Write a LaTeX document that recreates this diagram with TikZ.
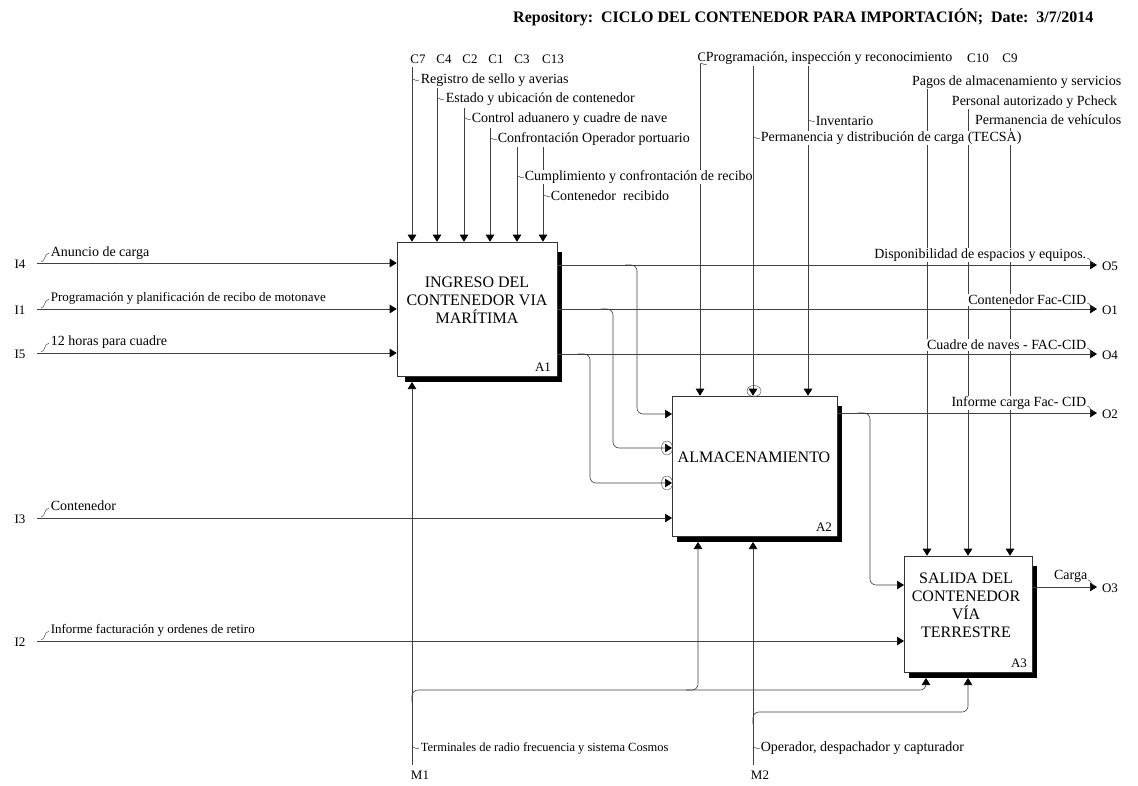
\documentclass[tikz,border=0pt]{standalone}
\usepackage{fontspec}
\setmainfont{Liberation Serif}
\usetikzlibrary{arrows.meta,calc,backgrounds}
\begin{document}
\begin{tikzpicture}[x=1pt,y=-1pt,
  line/.style={draw=black!75, line width=0.6pt},
  arr/.style={line, -{Triangle[length=7pt,width=8.5pt,color=black]}},
  rarr/.style={arr, rounded corners=6pt},
  lbl/.style={font=\fontsize{14}{16}\selectfont, inner sep=0.6pt, fill=white},
  lbls/.style={font=\fontsize{13}{15}\selectfont, inner sep=0.6pt, fill=white},
  code/.style={font=\fontsize{13}{15}\selectfont, inner sep=0.5pt},
  titlef/.style={font=\bfseries\fontsize{16}{18}\selectfont, inner sep=0pt},
  boxtxt/.style={font=\fontsize{16}{18}\selectfont, align=center, inner sep=0pt},
  proc/.style={draw=black!80, fill=white, line width=0.6pt, inner sep=0pt},
  squig/.style={draw=black!75, line width=0.45pt},
  tunnel/.style={draw=black!70, line width=0.45pt},
  csq/.pic={\draw[squig] (0,0) .. controls (2,-3) and (4,3) .. (7,0);},
  isq/.pic={\draw[squig] (0,0) .. controls (5,-1) and (2,-7) .. (8,-9);},
  osq/.pic={\draw[squig] (0,0) .. controls (4,0) and (2,5) .. (7,6);}
]
\useasboundingbox (0,0) rectangle (1138,785);

% title
\node[titlef, anchor=west] (title) at (513,17) {Repository:\ \ CICLO DEL CONTENEDOR PARA IMPORTACIÓN;\ \ Date:\ \ 3/7/2014};

% activity boxes
\node[proc, minimum width=160pt, minimum height=134pt] (A1) at (477,309) {};
\node[proc, minimum width=165pt, minimum height=140pt] (A2) at (754.5,466) {};
\node[proc, minimum width=128pt, minimum height=116pt] (A3) at (968,614) {};

\begin{scope}[on background layer]
  \fill[white] (0,0) rectangle (1138,785);
  \fill[black] ($(A1.south west)+(8,6)$) rectangle ($(A1.north east)+(5,10)$);
  \fill[black] ($(A2.south west)+(5,6)$) rectangle ($(A2.north east)+(5,10)$);
  \fill[black] ($(A3.south west)+(5,6)$) rectangle ($(A3.north east)+(5,10)$);
\end{scope}

\node[boxtxt] (A1name) at (477,300) {INGRESO DEL\\CONTENEDOR VIA\\MARÍTIMA};
\node[code] (A1id) at (543,367) {A1};
\node[boxtxt] (A2name) at (754,457) {ALMACENAMIENTO};
\node[code] (A2id) at (824,527) {A2};
\node[boxtxt] (A3name) at (966,605) {SALIDA DEL\\CONTENEDOR\\VÍA\\TERRESTRE};
\node[code] (A3id) at (1019,663) {A3};

% ---------- connection points
\coordinate (A2i1) at (672,414);
\coordinate (A2i2) at (672,448);
\coordinate (A2i3) at (672,483);
\coordinate (A2i4) at (672,518);
\coordinate (A3i1) at (904,585);
\coordinate (A3i2) at (904,641);
\coordinate (A1m1) at (412,382);
\coordinate (A2m1) at (698,542);
\coordinate (A2m2) at (753,542);
\coordinate (A3m1) at (926,678);
\coordinate (A3m2) at (968,678);

% ---------- controls A1
\foreach \n/\x/\y in {C7/412/67, C4/437/88, C2/464/108, C1/490/128, C3/517/147, C13/543/147}{
  \coordinate (\n s) at (\x,\y);
  \draw[arr] (\n s) -- (\n s |- A1.north);
}
% ---------- controls A2
\coordinate (P1s) at (700,64);
\coordinate (P2s) at (753,66);
\coordinate (P3s) at (808,66);
\draw[arr] (P1s) -- (P1s |- A2.north);
\draw[arr] (P2s) -- (P2s |- A2.north);
\draw[arr] (P3s) -- (P3s |- A2.north);
\draw[tunnel] (754,391) ellipse (7pt and 5.5pt);
% ---------- controls A3
\coordinate (K1s) at (927,88);
\coordinate (K2s) at (968,108);
\coordinate (K3s) at (1010,128);
\draw[arr] (K1s) -- (K1s |- A3.north);
\draw[arr] (K2s) -- (K2s |- A3.north);
\draw[arr] (K3s) -- (K3s |- A3.north);

% ---------- inputs
\coordinate (I4s) at (37,263);
\coordinate (I1s) at (37,309);
\coordinate (I5s) at (37,353);
\coordinate (I3s) at (37,518);
\coordinate (I2s) at (37,641);
\draw[arr] (I4s) -- (I4s -| A1.west);
\draw[arr] (I1s) -- (I1s -| A1.west);
\draw[arr] (I5s) -- (I5s -| A1.west);
\draw[arr] (I3s) -- (A2i4);
\draw[arr] (I2s) -- (A3i2);

% ---------- outputs
\coordinate (O5e) at (1097,265);
\coordinate (O1e) at (1097,309);
\coordinate (O4e) at (1097,354);
\coordinate (O2e) at (1097,413);
\coordinate (O3e) at (1097,587);
\draw[arr] (O5e -| A1.east) -- (O5e);
\draw[arr] (O1e -| A1.east) -- (O1e);
\draw[arr] (O4e -| A1.east) -- (O4e);
\draw[arr] (O2e -| A2.east) -- (O2e);
\draw[arr] (O3e -| A3.east) -- (O3e);

% branches A1 -> A2, A2 -> A3
\coordinate (j1) at (637,265);
\coordinate (j2) at (613,309);
\coordinate (j3) at (590,354);
\coordinate (j4) at (870,413);
\draw[rarr] ($(j1)+(-12,0)$) -- (j1) -- (j1 |- A2i1) -- (A2i1);
\draw[rarr] ($(j2)+(-12,0)$) -- (j2) -- (j2 |- A2i2) -- (A2i2);
\draw[rarr] ($(j3)+(-12,0)$) -- (j3) -- (j3 |- A2i3) -- (A2i3);
\draw[rarr] ($(j4)+(-12,0)$) -- (j4) -- (j4 |- A3i1) -- (A3i1);
\draw[tunnel] (667,448) ellipse (5.5pt and 7pt);
\draw[tunnel] (667,483) ellipse (5.5pt and 7pt);

% ---------- mechanisms
\coordinate (M1s) at (412,765);
\coordinate (M2s) at (753,765);
\coordinate (m1j) at (412,690);
\coordinate (m2j) at (753,712);
\draw[arr] (M1s) -- (A1m1);
\draw[arr] (M2s) -- (A2m2);
\draw[rarr] ($(m1j)+(0,12)$) -- (m1j) -- (m1j -| A3m1) -- (A3m1);
\draw[rarr] ($(m1j -| A2m1)+(-12,0)$) -- (m1j -| A2m1) -- (A2m1);
\draw[rarr] ($(m2j)+(0,12)$) -- (m2j) -- (m2j -| A3m2) -- (A3m2);

% ---------- ICOM codes
\node[code] (c7) at (418,59) {C7};
\node[code] (c4) at (444,59) {C4};
\node[code] (c2) at (470,59) {C2};
\node[code] (c1) at (496,59) {C1};
\node[code] (c3) at (522,59) {C3};
\node[code] (c13) at (553,59) {C13};
\node[code] (c10) at (978,58) {C10};
\node[code] (c9) at (1010,58) {C9};
\node[code] (i4) at (20,264) {I4};
\node[code] (i1) at (20,310) {I1};
\node[code] (i5) at (20,354) {I5};
\node[code] (i3) at (20,519) {I3};
\node[code] (i2) at (20,642) {I2};
\node[code] (o5) at (1110,266) {O5};
\node[code] (o1) at (1110,310) {O1};
\node[code] (o4) at (1110,355) {O4};
\node[code] (o2) at (1110,414) {O2};
\node[code] (o3) at (1110,588) {O3};
\node[code] (m1) at (420,775) {M1};
\node[code] (m2) at (760,775) {M2};

% ---------- arrow labels: controls
\node[lbl, anchor=west] (l1) at (420,80) {Registro de sello y averias};
\pic at (412,80) {csq};
\node[lbl, anchor=west] (l2) at (445,99) {Estado y ubicación de contenedor};
\pic at (437,99) {csq};
\node[lbl, anchor=west] (l3) at (471,119) {Control aduanero y cuadre de nave};
\pic at (464,119) {csq};
\node[lbl, anchor=west] (l4) at (497,139) {Confrontación Operador portuario};
\pic at (490,139) {csq};
\node[lbl, anchor=west] (l5) at (524,177) {Cumplimiento y confrontación de recibo};
\pic at (517,177) {csq};
\node[lbl, anchor=west] (l6) at (550,196) {Contenedor\ \ recibido};
\pic at (543,196) {csq};
\node[code, anchor=west] (l7c) at (697,57) {C};
\node[lbl, anchor=west] (l7) at (705,58) {Programación, inspección y reconocimiento};
\pic at (700,64) {csq};
\node[lbl, anchor=west] (l8) at (815,121) {Inventario};
\pic at (808,121) {csq};
\node[lbl, anchor=west] (l9) at (760,138) {Permanencia y distribución de carga (TECSA)};
\pic at (753,138) {csq};
\node[lbl, anchor=east] (l10) at (1122,82) {Pagos de almacenamiento y servicios};
\node[lbl, anchor=east] (l11) at (1118,102) {Personal autorizado y Pcheck};
\node[lbl, anchor=east] (l12) at (1122,120) {Permanencia de vehículos};

% inputs labels
\node[lbl, anchor=west] (l13) at (50,253) {Anuncio de carga};
\pic at (41,262) {isq};
\node[lbls, anchor=west] (l14) at (50,298) {Programación y planificación de recibo de motonave};
\pic at (41,308) {isq};
\node[lbl, anchor=west] (l15) at (50,342) {12 horas para cuadre};
\pic at (41,352) {isq};
\node[lbl, anchor=west] (l16) at (50,506) {Contenedor};
\pic at (41,517) {isq};
\node[lbls, anchor=west] (l17) at (50,630) {Informe facturación y ordenes de retiro};
\pic at (41,640) {isq};

% outputs labels
\node[lbl, anchor=east] (l18) at (1087,255) {Disponibilidad de espacios y equipos.};
\pic at (1087,258) {osq};
\node[lbl, anchor=east] (l19) at (1087,300) {Contenedor Fac-CID};
\pic at (1087,303) {osq};
\node[lbl, anchor=east] (l20) at (1087,345) {Cuadre de naves - FAC-CID};
\pic at (1087,348) {osq};
\node[lbl, anchor=east] (l21) at (1087,403) {Informe carga Fac- CID};
\pic at (1087,406) {osq};
\node[lbl, anchor=east] (l22) at (1088,576) {Carga};
\pic at (1088,580) {osq};

% mechanisms labels
\node[lbls, anchor=west, font=\fontsize{12.5}{14}\selectfont] (l23) at (420,748) {Terminales de radio frecuencia y sistema Cosmos};
\pic at (412,748) {csq};
\node[lbl, anchor=west] (l24) at (760,748) {Operador, despachador y capturador};
\pic at (753,748) {csq};
\end{tikzpicture}
\end{document}
